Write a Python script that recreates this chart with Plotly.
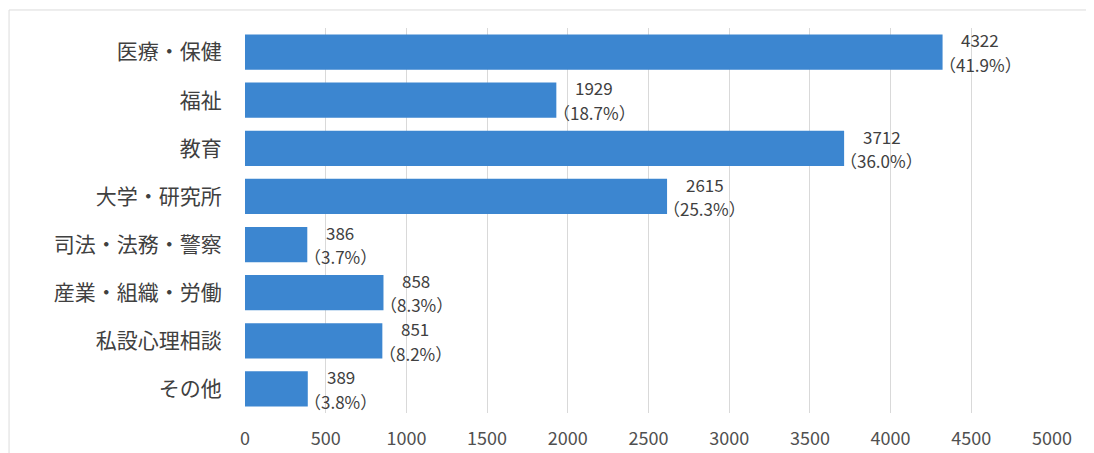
import plotly.graph_objects as go

categories = ["医療・保健", "福祉", "教育", "大学・研究所", "司法・法務・警察", "産業・組織・労働", "私設心理相談", "その他"]
counts = [4322, 1929, 3712, 2615, 386, 858, 851, 389]
percents = [41.9, 18.7, 36.0, 25.3, 3.7, 8.3, 8.2, 3.8]
tick_values = [0, 500, 1000, 1500, 2000, 2500, 3000, 3500, 4000, 4500, 5000]

FONT = "Noto Sans CJK JP, Noto Sans, sans-serif"
LABEL_SIZE = 17
LABEL_FONT = dict(family=FONT, size=LABEL_SIZE, color="#404040")

# approximate glyph advance widths (in em) for centring the two label lines
EM = {".": 0.27, "%": 0.84, "（": 0.35, "）": 0.35}


def est_width(s, size):
    return sum(EM.get(ch, 0.56) for ch in s) * size


fig = go.Figure(go.Bar(
    y=categories, x=counts, orientation="h",
    marker=dict(color="#3c86d0", line=dict(width=0)),
    width=0.73, hoverinfo="x+y",
))

annotations = []
for cat, c, p in zip(categories, counts, percents):
    pct_text = f"（{p:.1f}%）"
    centre = 8 + est_width(pct_text, LABEL_SIZE) / 2
    annotations.append(dict(x=c, y=cat, xref="x", yref="y", text=str(c),
                            showarrow=False, xanchor="center", yanchor="middle",
                            xshift=centre, yshift=12.3, font=LABEL_FONT))
    annotations.append(dict(x=c, y=cat, xref="x", yref="y", text=pct_text,
                            showarrow=False, xanchor="center", yanchor="middle",
                            xshift=centre, yshift=-12.3, font=LABEL_FONT))

fig.update_layout(
    width=1094, height=453,
    margin=dict(l=237, r=50, t=20, b=48, autoexpand=False),
    paper_bgcolor="white", plot_bgcolor="white",
    showlegend=False,
    font=dict(family=FONT, color="#404040"),
    xaxis=dict(range=[0, 5000], tickvals=tick_values, showgrid=True, gridcolor="#d9d9d9",
               gridwidth=1, zeroline=False, showline=False,
               ticks="outside", ticklen=9, tickcolor="rgba(0,0,0,0)",
               tickfont=dict(size=18, color="#505050")),
    yaxis=dict(range=[len(categories) - 0.5, -0.5], showgrid=False, zeroline=False,
               showline=False, ticks="outside", ticklen=18, tickcolor="rgba(0,0,0,0)",
               tickfont=dict(size=21, color="#404040")),
    annotations=annotations,
    shapes=[dict(type="rect", xref="paper", yref="paper",
                 x0=-0.2924, x1=1.07, y0=-0.2, y1=1.0468,
                 line=dict(color="#dcdcdc", width=1), layer="below")],
)

fig.write_html("out.html")
